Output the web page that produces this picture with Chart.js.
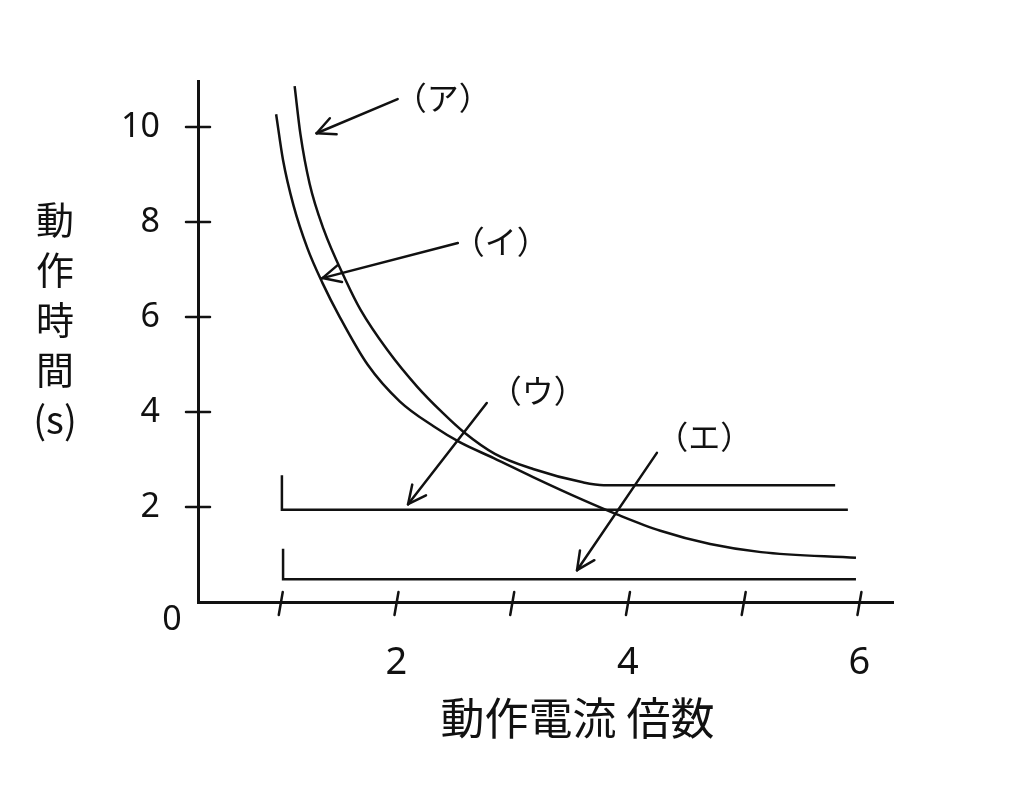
<!DOCTYPE html>
<html lang="ja">
<head>
<meta charset="utf-8">
<title>動作時間特性</title>
<script src="https://cdn.jsdelivr.net/npm/chart.js@4.4.1/dist/chart.umd.min.js"></script>
<style>
  body { margin: 0; background: #fff; }
</style>
</head>
<body>
<canvas id="chart" width="1024" height="794"></canvas>
<script>
// tick values
const xTicks = [1, 2, 3, 4, 5, 6];
const yTicks = [2, 4, 6, 8, 10];

// (ア) curve, flat after about 3.8
const curveAx = [1.12, 1.17, 1.25, 1.37, 1.56, 1.69, 1.92, 2.18, 2.40, 2.58, 2.85, 3.18, 3.61, 3.79, 5.79];
const curveAy = [10.86, 9.85, 8.80, 7.85, 6.78, 6.15, 5.31, 4.53, 3.98, 3.58, 3.12, 2.80, 2.52, 2.46, 2.46];

// (イ) curve
const curveBx = [0.96, 1.02, 1.11, 1.23, 1.36, 1.51, 1.75, 2.03, 2.32, 2.55, 2.84, 3.18, 3.61, 3.91, 4.28, 4.71, 5.15, 5.97];
const curveBy = [10.27, 9.30, 8.35, 7.45, 6.72, 6.00, 5.00, 4.22, 3.70, 3.36, 3.03, 2.63, 2.15, 1.84, 1.50, 1.22, 1.05, 0.93];

// (ウ) and (エ) steps
const stepCx = [1.01, 1.01, 5.90];
const stepCy = [2.67, 1.94, 1.94];
const stepDx = [1.02, 1.02, 5.97];
const stepDy = [1.12, 0.48, 0.48];

// callouts
const noteText = ["（ア）", "（イ）", "（ウ）", "（エ）"];
const noteAt = [[2.40, 10.61], [2.90, 7.58], [3.22, 4.44], [4.66, 3.47]];
const arrowFrom = [[2.01, 10.59], [2.53, 7.56], [2.78, 4.19], [4.25, 3.14]];
const arrowTo = [[1.31, 9.87], [1.36, 6.82], [2.10, 2.06], [3.56, 0.67]];

const ink = "#111";
const jpFont = '"Noto Sans CJK JP", "Noto Sans", sans-serif';

function toPoints(xs, ys) {
  return xs.map((x, i) => ({ x: x, y: ys[i] }));
}

function line(ctx, x1, y1, x2, y2) {
  ctx.beginPath();
  ctx.moveTo(x1, y1);
  ctx.lineTo(x2, y2);
  ctx.stroke();
}

const handDrawn = {
  id: "handDrawn",
  afterDraw(chart) {
    const { ctx, chartArea } = chart;
    const xs = chart.scales.x;
    const ys = chart.scales.y;
    ctx.save();
    ctx.strokeStyle = ink;
    ctx.fillStyle = ink;
    ctx.lineWidth = 2.5;
    ctx.lineCap = "round";

    // tick marks that cross the axes
    xTicks.forEach((v) => {
      const px = xs.getPixelForValue(v);
      line(ctx, px + 2, chartArea.bottom - 10, px - 2, chartArea.bottom + 13);
    });
    yTicks.forEach((v) => {
      const py = ys.getPixelForValue(v);
      line(ctx, chartArea.left - 12, py, chartArea.left + 12, py);
    });

    // arrows
    arrowFrom.forEach((f, i) => {
      const fx = xs.getPixelForValue(f[0]);
      const fy = ys.getPixelForValue(f[1]);
      const tx = xs.getPixelForValue(arrowTo[i][0]);
      const ty = ys.getPixelForValue(arrowTo[i][1]);
      line(ctx, fx, fy, tx, ty);
      const a = Math.atan2(fy - ty, fx - tx);
      line(ctx, tx, ty, tx + 20 * Math.cos(a + 0.45), ty + 20 * Math.sin(a + 0.45));
      line(ctx, tx, ty, tx + 20 * Math.cos(a - 0.45), ty + 20 * Math.sin(a - 0.45));
    });

    // callout labels
    ctx.textAlign = "center";
    ctx.textBaseline = "middle";
    ctx.font = "32px " + jpFont;
    noteText.forEach((t, i) => {
      ctx.fillText(t, xs.getPixelForValue(noteAt[i][0]), ys.getPixelForValue(noteAt[i][1]));
    });

    // origin label
    ctx.font = '34px "Noto Sans", sans-serif';
    ctx.fillText("0", chartArea.left - 26, chartArea.bottom + 18);

    // axis titles
    ctx.font = "44px " + jpFont;
    ctx.fillText("動作電流 倍数", (chartArea.left + chartArea.right) / 2 + 32, chartArea.bottom + 116);
    ctx.font = "38px " + jpFont;
    ["動", "作", "時", "間", "(s)"].forEach((c, i) => {
      ctx.fillText(c, chartArea.left - 143, chartArea.top + 139 + i * 50);
    });
    ctx.restore();
  },
};

const lineStyle = {
  borderColor: ink,
  borderWidth: 2.5,
  pointRadius: 0,
  fill: false,
};

new Chart(document.getElementById("chart"), {
  type: "line",
  data: {
    datasets: [
      { label: "（ア）", data: toPoints(curveAx, curveAy), cubicInterpolationMode: "monotone", ...lineStyle },
      { label: "（イ）", data: toPoints(curveBx, curveBy), cubicInterpolationMode: "monotone", ...lineStyle },
      { label: "（ウ）", data: toPoints(stepCx, stepCy), tension: 0, ...lineStyle },
      { label: "（エ）", data: toPoints(stepDx, stepDy), tension: 0, ...lineStyle },
    ],
  },
  options: {
    responsive: false,
    animation: false,
    layout: { padding: { left: 0, right: 131, top: 81, bottom: 0 } },
    plugins: {
      legend: { display: false },
      tooltip: { enabled: false },
    },
    scales: {
      x: {
        type: "linear",
        min: 0.285,
        max: 6.29,
        grid: { display: false, drawTicks: false },
        border: { display: true, color: ink, width: 3 },
        afterBuildTicks: (scale) => {
          scale.ticks = xTicks.map((v) => ({ value: v }));
        },
        afterFit: (scale) => {
          scale.height = 192;
        },
        ticks: {
          color: ink,
          padding: 38,
          maxRotation: 0,
          font: { family: "Noto Sans", size: 38 },
          callback: (v) => (v % 2 === 0 ? String(v) : ""),
        },
      },
      y: {
        type: "linear",
        min: 0,
        max: 10.97,
        grid: { display: false, drawTicks: false },
        border: { display: true, color: ink, width: 3 },
        afterBuildTicks: (scale) => {
          scale.ticks = yTicks.map((v) => ({ value: v }));
        },
        afterFit: (scale) => {
          scale.width = 198;
        },
        ticks: {
          color: ink,
          padding: 38,
          font: { family: "Noto Sans", size: 34 },
        },
      },
    },
  },
  plugins: [handDrawn],
});
</script>
</body>
</html>
